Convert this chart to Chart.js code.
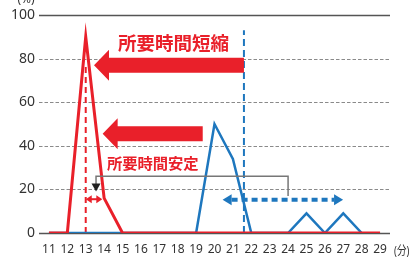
<!DOCTYPE html>
<html>
<head>
<meta charset="utf-8">
<script src="https://cdn.jsdelivr.net/npm/chart.js@4"></script>
<style>
  body { margin: 0; background: #fff; }
  #wrap { width: 412px; height: 261px; position: relative; }
</style>
</head>
<body>
<div id="wrap"><canvas id="chart"></canvas></div>
<script>
// data
const xLabels = [11, 12, 13, 14, 15, 16, 17, 18, 19, 20, 21, 22, 23, 24, 25, 26, 27, 28, 29];
const redValues = [0, 0, 90, 16, 0, 0, 0, 0, 0, 0, 0, 0, 0, 0, 0, 0, 0, 0, 0];
const blueValues = [0, 0, 0, 0, 0, 0, 0, 0, 0, 50, 34, 0, 0, 0, 9, 0, 9, 0, null];
const yTicks = [0, 20, 40, 60, 80, 100];

// annotations (data coordinates)
const redDashX = 13, redDashTop = 77;
const blueDashX = 21.6, blueDashTop = 93;
const bigArrows = [
    { from: 21.6, to: 13.45, y: 77 },
    { from: 19.36, to: 13.92, y: 45.5 }
];
const labelTexts = [
    { text: "所要時間短縮", x: 14.75, y: 87, size: 18.5 },
    { text: "所要時間安定", x: 14.15, y: 32, size: 15.3 }
];
const redSpan = { from: 13.0, to: 13.9, y: 15.5 };
const blueSpan = { from: 20.44, to: 26.99, y: 15.3 };
const bracket = { left: 13.56, right: 24.0, top: 26, rightBottom: 17, tip: 19 };

const RED = "#e9202a";
const BLUE = "#1e77be";

function px(chart, x) { return chart.scales.x.getPixelForValue(x) }
function py(chart, y) { return chart.scales.y.getPixelForValue(y) }

function bigArrow(ctx, x1, x2, y) {
    ctx.beginPath();
    ctx.moveTo(x1, y - 7.5);
    ctx.lineTo(x2 + 15, y - 7.5);
    ctx.lineTo(x2 + 15, y - 15.5);
    ctx.lineTo(x2, y);
    ctx.lineTo(x2 + 15, y + 15.5);
    ctx.lineTo(x2 + 15, y + 7.5);
    ctx.lineTo(x1, y + 7.5);
    ctx.closePath();
    ctx.fill();
}

function head(ctx, tipX, tipY, dir, len, half) {
    ctx.beginPath();
    ctx.moveTo(tipX, tipY);
    ctx.lineTo(tipX - dir * len, tipY - half);
    ctx.lineTo(tipX - dir * len, tipY + half);
    ctx.closePath();
    ctx.fill();
}

const gridPlugin = {
    id: "gridPlugin",
    beforeDatasetsDraw(chart) {
        const ctx = chart.ctx;
        const area = chart.chartArea;
        ctx.save();
        yTicks.forEach(v => {
            const y = Math.round(py(chart, v)) + 0.5;
            ctx.beginPath();
            if (v === 0 || v === 100) {
                ctx.setLineDash([]);
                ctx.strokeStyle = "#555";
                ctx.lineWidth = 1.5;
            } else {
                ctx.setLineDash([3.5, 2]);
                ctx.strokeStyle = "#8a8a8a";
                ctx.lineWidth = 1;
            }
            ctx.moveTo(area.left, y);
            ctx.lineTo(area.right, y);
            ctx.stroke();
        });
        // vertical dashed markers
        ctx.lineWidth = 2;
        ctx.setLineDash([6, 4]);
        ctx.strokeStyle = RED;
        ctx.beginPath();
        ctx.moveTo(px(chart, redDashX), py(chart, 0));
        ctx.lineTo(px(chart, redDashX), py(chart, redDashTop));
        ctx.stroke();
        ctx.strokeStyle = BLUE;
        ctx.setLineDash([7, 4]);
        ctx.beginPath();
        ctx.moveTo(px(chart, blueDashX), py(chart, 0));
        ctx.lineTo(px(chart, blueDashX), py(chart, blueDashTop));
        ctx.stroke();
        ctx.restore();
    },
    afterDatasetsDraw(chart) {
        const ctx = chart.ctx;
        const area = chart.chartArea;
        ctx.save();
        ctx.fillStyle = RED;
        bigArrows.forEach(a => bigArrow(ctx, px(chart, a.from), px(chart, a.to), py(chart, a.y)));

        ctx.textBaseline = "middle";
        ctx.textAlign = "left";
        labelTexts.forEach(t => {
            ctx.font = "bold " + t.size + "px 'Noto Sans CJK JP'";
            ctx.fillText(t.text, px(chart, t.x), py(chart, t.y));
        });

        // gray bracket
        const bl = px(chart, bracket.left), br = px(chart, bracket.right);
        const bt = py(chart, bracket.top);
        ctx.strokeStyle = "#777";
        ctx.lineWidth = 1.5;
        ctx.beginPath();
        ctx.moveTo(bl, py(chart, bracket.tip) - 7);
        ctx.lineTo(bl, bt);
        ctx.lineTo(br, bt);
        ctx.lineTo(br, py(chart, bracket.rightBottom));
        ctx.stroke();
        ctx.fillStyle = "#222";
        ctx.beginPath();
        ctx.moveTo(bl, py(chart, bracket.tip));
        ctx.lineTo(bl - 4.5, py(chart, bracket.tip) - 8);
        ctx.lineTo(bl + 4.5, py(chart, bracket.tip) - 8);
        ctx.closePath();
        ctx.fill();

        // red double arrow
        const ry = py(chart, redSpan.y);
        const r1 = px(chart, redSpan.from), r2 = px(chart, redSpan.to);
        ctx.strokeStyle = RED;
        ctx.fillStyle = RED;
        ctx.lineWidth = 2;
        ctx.beginPath();
        ctx.moveTo(r1 + 4, ry);
        ctx.lineTo(r2 - 4, ry);
        ctx.stroke();
        head(ctx, r1, ry, -1, 6, 4);
        head(ctx, r2, ry, 1, 6, 4);

        // blue dashed double arrow
        const by = py(chart, blueSpan.y);
        const b1 = px(chart, blueSpan.from), b2 = px(chart, blueSpan.to);
        ctx.strokeStyle = BLUE;
        ctx.fillStyle = BLUE;
        ctx.lineWidth = 4;
        ctx.setLineDash([6, 4]);
        ctx.beginPath();
        ctx.moveTo(b1 + 9, by);
        ctx.lineTo(b2 - 9, by);
        ctx.stroke();
        ctx.setLineDash([]);
        head(ctx, b1, by, -1, 9, 5.5);
        head(ctx, b2, by, 1, 9, 5.5);

        // axis unit labels
        ctx.fillStyle = "#333";
        ctx.font = "12px 'Noto Sans'";
        ctx.textAlign = "center";
        ctx.textBaseline = "alphabetic";
        ctx.fillText("(%)", 26, 3);
        ctx.textAlign = "left";
        ctx.textBaseline = "middle";
        ctx.font = "12px 'Noto Sans', 'Noto Sans CJK JP'";
        ctx.translate(area.right + 4, 252);
        ctx.scale(0.8, 1);
        ctx.fillText("(分)", 0, 0);
        ctx.restore();
    }
};

function toPoints(values) {
    return xLabels.map((x, i) => ({ x: x, y: values[i] }));
}

const ctx = document.getElementById("chart");
new Chart(ctx, {
    type: "line",
    data: {
        datasets: [{
            data: toPoints(redValues),
            borderColor: RED,
            borderWidth: 3,
            borderJoinStyle: "miter",
            pointRadius: 0,
            tension: 0,
            order: 1
        }, {
            data: toPoints(blueValues),
            borderColor: BLUE,
            borderWidth: 2.5,
            borderJoinStyle: "miter",
            pointRadius: 0,
            tension: 0,
            order: 2
        }]
    },
    options: {
        responsive: true,
        maintainAspectRatio: false,
        devicePixelRatio: 1,
        animation: false,
        layout: {
            padding: { top: 15, right: 22, left: 0, bottom: 0 }
        },
        plugins: {
            legend: { display: false },
            tooltip: { enabled: false }
        },
        scales: {
            x: {
                type: "linear",
                min: 10.46,
                max: 29.54,
                afterBuildTicks: s => { s.ticks = xLabels.map(v => ({ value: v })) },
                afterFit: s => { s.height = 28 },
                grid: { display: false, drawTicks: false },
                border: { display: false },
                ticks: {
                    padding: 9,
                    autoSkip: false,
                    maxRotation: 0,
                    color: "#333",
                    font: { family: "'Liberation Sans Narrow', 'Noto Sans'", size: 12 }
                }
            },
            y: {
                min: 0,
                max: 100,
                afterBuildTicks: s => { s.ticks = yTicks.map(v => ({ value: v })) },
                afterFit: s => { s.width = 39 },
                grid: { display: false, drawTicks: false },
                border: { display: false },
                ticks: {
                    padding: 4,
                    color: "#333",
                    font: { family: "'Noto Sans'", size: 14 }
                }
            }
        }
    },
    plugins: [gridPlugin]
});
</script>
</body>
</html>
